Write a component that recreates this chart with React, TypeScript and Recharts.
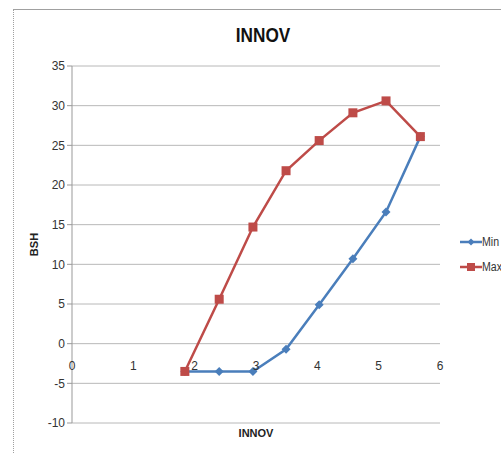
import React from 'react';
import { LineChart, Line, XAxis, YAxis, CartesianGrid, Legend } from 'recharts';

// INNOV values along the horizontal axis
const innov = [1.84, 2.4, 2.95, 3.49, 4.03, 4.58, 5.12, 5.68];
// BSH series
const minBsh = [-3.5, -3.5, -3.5, -0.7, 4.9, 10.7, 16.6, 26.1];
const maxBsh = [-3.5, 5.6, 14.7, 21.8, 25.6, 29.1, 30.6, 26.1];

const xTicks = [0, 1, 2, 3, 4, 5, 6];
const yTicks = [-10, -5, 0, 5, 10, 15, 20, 25, 30, 35];
const xDomain: [number, number] = [0, 6];
const yDomain: [number, number] = [-10, 35];

const data = innov.map((x, i) => ({ x, min: minBsh[i], max: maxBsh[i] }));

const FONT = "'Liberation Sans', Arial, sans-serif";
const BLUE = '#4a7ebb';
const RED = '#be4b48';

const W = 501;
const H = 453;
const MARGIN = { top: 66, right: 61, bottom: 10, left: 12 };
const X_AXIS_H = 20;
const PLOT_H = H - MARGIN.top - MARGIN.bottom - X_AXIS_H;

// Horizontal tick labels sit just under the zero line, not at the bottom of the plot
const zeroShift = ((0 - yDomain[0]) / (yDomain[1] - yDomain[0])) * PLOT_H;

const XTick = (props: any) => {
  const { x, y, payload } = props;
  return (
    <text x={x} y={y - zeroShift + 24} textAnchor="middle" fontSize={12} fill="#333" fontFamily={FONT}>
      {payload.value}
    </text>
  );
};

const Diamond = (props: any) => {
  const { cx, cy, key } = props;
  if (cx == null || cy == null) return null;
  const r = 4.5;
  return <path key={key} d={`M${cx},${cy - r}L${cx + r},${cy}L${cx},${cy + r}L${cx - r},${cy}Z`} fill={BLUE} />;
};

const Square = (props: any) => {
  const { cx, cy, key } = props;
  if (cx == null || cy == null) return null;
  const s = 9;
  return <rect key={key} x={cx - s / 2} y={cy - s / 2} width={s} height={s} fill={RED} />;
};

const LegendContent = () => {
  const items = [
    { name: 'Min', color: BLUE, shape: 'diamond' },
    { name: 'Max', color: RED, shape: 'square' },
  ];
  return (
    <div style={{ fontFamily: FONT, fontSize: 12, color: '#333' }}>
      {items.map((it) => (
        <div key={it.name} style={{ display: 'flex', alignItems: 'center', height: 25, whiteSpace: 'nowrap' }}>
          <svg width={22} height={12} style={{ flex: 'none' }}>
            <line x1={0} y1={6} x2={22} y2={6} stroke={it.color} strokeWidth={2.5} />
            {it.shape === 'diamond' ? (
              <path d="M11,2.5L14.5,6L11,9.5L7.5,6Z" fill={it.color} />
            ) : (
              <rect x={7} y={2} width={8} height={8} fill={it.color} />
            )}
          </svg>
          <span style={{ display: 'inline-block', transform: 'scaleX(0.88)', transformOrigin: '0 50%' }}>{it.name}</span>
        </div>
      ))}
    </div>
  );
};

export default function App() {
  return (
    <div style={{ position: 'absolute', left: 0, top: 0, width: W, height: H, background: '#fff', overflow: 'hidden' }}>
      <div
        style={{
          position: 'absolute',
          left: 13,
          top: 9,
          width: W,
          height: H,
          borderTop: '1px solid #a0a0a0',
          borderLeft: '1px dotted #a0a0a0',
        }}
      />
      <div
        style={{
          position: 'absolute',
          left: 0,
          width: 526,
          top: 23,
          textAlign: 'center',
          fontFamily: FONT,
          fontWeight: 'bold',
          fontSize: 20,
          lineHeight: '24px',
          color: '#111',
          transform: 'scaleX(0.86)',
          transformOrigin: '263px 0',
        }}
      >
        INNOV
      </div>
      <LineChart width={W} height={H} data={data} margin={MARGIN} style={{ position: 'absolute', left: 0, top: 0 }}>
        <CartesianGrid vertical={false} stroke="#b8b8b8" strokeWidth={1} />
        <XAxis
          type="number"
          dataKey="x"
          domain={xDomain}
          ticks={xTicks}
          height={X_AXIS_H}
          axisLine={false}
          tickLine={false}
          tickSize={0}
          tick={<XTick />}
          label={{ value: 'INNOV', position: 'center', fontSize: 11, fontWeight: 'bold', fill: '#222', fontFamily: FONT }}
        />
        <YAxis
          type="number"
          domain={yDomain}
          ticks={yTicks}
          width={60}
          axisLine={{ stroke: '#999' }}
          tickLine={{ stroke: '#999' }}
          tickSize={5}
          tick={{ fontSize: 12, fill: '#333', fontFamily: FONT }}
          label={{ value: 'BSH', angle: -90, position: 'center', dx: -8, fontSize: 11, fontWeight: 'bold', fill: '#222', fontFamily: FONT }}
        />
        <Legend
          layout="vertical"
          align="center"
          verticalAlign="middle"
          wrapperStyle={{ left: 460, top: 229, width: 60 }}
          content={<LegendContent />}
        />
        <Line
          type="linear"
          dataKey="min"
          name="Min"
          stroke={BLUE}
          strokeWidth={2.5}
          dot={<Diamond />}
          activeDot={false}
          isAnimationActive={false}
        />
        <Line
          type="linear"
          dataKey="max"
          name="Max"
          stroke={RED}
          strokeWidth={2.5}
          dot={<Square />}
          activeDot={false}
          isAnimationActive={false}
        />
      </LineChart>
    </div>
  );
}
